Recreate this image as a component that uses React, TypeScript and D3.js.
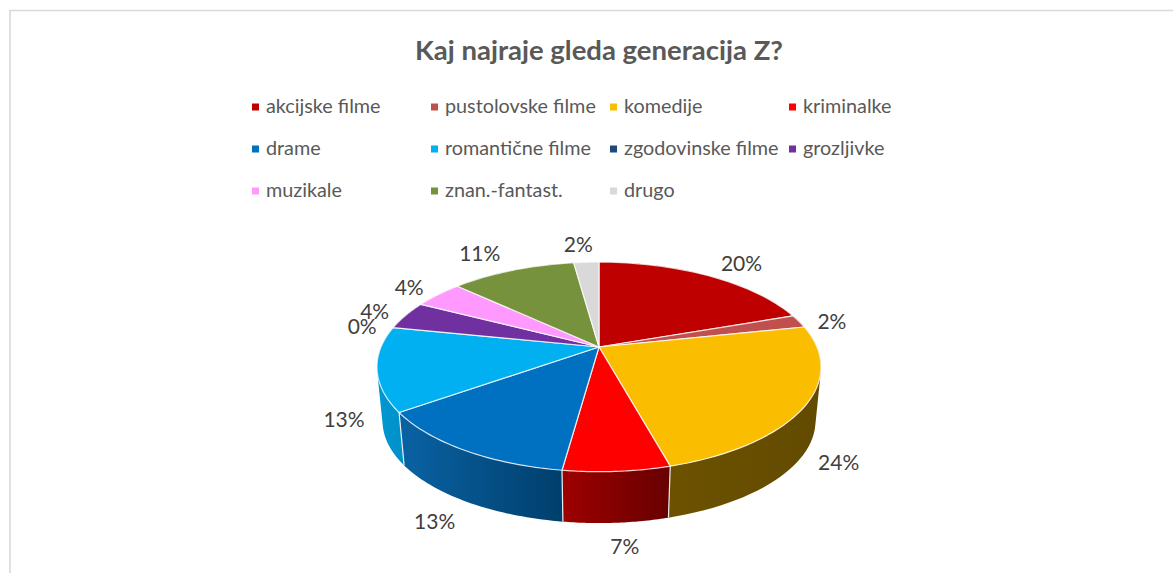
import React from "react";
import * as d3 from "d3";

const title = "Kaj najraje gleda generacija Z?";
const categories = ["akcijske filme","pustolovske filme","komedije","kriminalke","drame","romantične filme","zgodovinske filme","grozljivke","muzikale","znan.-fantast.","drugo"];
const shares = [19.7,2.0,24.0,6.5,13.0,13.0,0,4.4,4.3,10.9,2.2];
const shareLabels = ["20%","2%","24%","7%","13%","13%","0%","4%","4%","11%","2%"];
const colors = ["#BF0000","#C0504D","#FBBD00","#FF0000","#0070C0","#00B0F0","#1F497D","#7030A0","#FF99FF","#76923C","#D9D9D9"];
const wallLeft = ["#700000","#702e2c","#6C5200","#9E0000","#0A62A4","#0098D2","#14305a","#441c62","#995c99","#4c5c23","#828282"];
const wallRight = ["#700000","#702e2c","#624A00","#680000","#003F6C","#0090C8","#14305a","#441c62","#995c99","#4c5c23","#828282"];
const labelNudges: [number,number][] = [[33,-12],[33,0],[33,57],[8,75.5],[-29,72],[-33,51],[-31,-1],[-31,-3.5],[-29,-7],[-33,-17],[-8,-18]];

const W = 1173, H = 573;
const cx = 599, apexY = 347, A = 218, B = 101, K = 0.19;
const depth = 54, bottomScale = 0.975, rimCy = 367;
const legendCols = 4, legendX0 = 252, legendDX = 179, legendY0 = 107, legendDY = 42;

const xScale = d3.scaleLinear().domain([-1,1]).range([cx-A,cx+A]);
const yScale = d3.scaleLinear().domain([-1,1]).range([apexY+B,apexY-B]);
const project = (a:number):[number,number] => {
  const u = Math.sin(a), v = Math.cos(a), w = 1+K*v;
  return [xScale(u/w), yScale(v/w)];
};
const projectBottom = (a:number):[number,number] => {
  const [x,y] = project(a);
  return [cx+(x-cx)*bottomScale, rimCy+(y-rimCy)*bottomScale+depth];
};
const line = d3.line();
const samples = (a0:number,a1:number) => d3.range(0,41).map(i => a0+(a1-a0)*i/40);

// The wall is a strip of quads, all wound the same way, so its outline follows the true silhouette.
const wallPath = (a0:number,a1:number) => {
  const s = samples(a0,a1);
  return s.slice(1).map((a,i)=>{
    const q = [project(s[i]),project(a),projectBottom(a),projectBottom(s[i])];
    return line(d3.polygonArea(q)<0 ? q.reverse() : q)+"Z";
  }).join("");
};

const pie = d3.pie<number>().sort(null).startAngle(0).endAngle(2*Math.PI);
const arcs = pie(shares);

const FONT = "Lato, 'Open Sans', sans-serif";

export default function App() {
  return (
    <svg width={W} height={H} viewBox={`0 0 ${W} ${H}`} style={{position:"absolute",left:0,top:0,background:"#fff"}} fontFamily={FONT}>
      <defs>
        {arcs.map((_,i)=>(
          <linearGradient key={i} id={`wall${i}`} x1="0" x2="1" y1="0" y2="0">
            <stop offset="0" stopColor={wallLeft[i]}/>
            <stop offset="1" stopColor={wallRight[i]}/>
          </linearGradient>
        ))}
      </defs>
      <path d="M1173 10.5H10V573" fill="none" stroke="#d9d9d9" strokeWidth={1.6}/>
      <text x={599} y={60} textAnchor="middle" fontSize={27.5} fontWeight={700} fill="#595959">{title}</text>
      {categories.map((c,i)=>{
        const col=i%legendCols,row=Math.floor(i/legendCols);
        const x=legendX0+col*legendDX,y=legendY0+row*legendDY;
        return <g key={c}>
          <rect x={x} y={y-3.5} width={7} height={7} fill={colors[i]}/>
          <text x={x+14} y={y+6} fontSize={19.8} fill="#595959">{c}</text>
        </g>;
      })}
      {arcs.map((d,i)=>{
        if(d.endAngle===d.startAngle) return null;
        return <path key={i} d={wallPath(d.startAngle,d.endAngle)} fill={`url(#wall${i})`}/>;
      })}
      {arcs.map((d,i)=>{
        const a=d.startAngle;
        if(a<Math.PI/2||a>1.45*Math.PI) return null;
        return <path key={i} d={line([project(a),projectBottom(a)])!} stroke="#e8eef2" strokeWidth={1.2} fill="none"/>;
      })}
      {arcs.map((d,i)=>{
        if(d.endAngle===d.startAngle) return null;
        const ring=[[cx,apexY] as [number,number],...samples(d.startAngle,d.endAngle).map(project)];
        return <path key={i} d={line(ring)+"Z"} fill={colors[i]} stroke="#ffffff" strokeOpacity={0.8} strokeWidth={1.2} strokeLinejoin="round"/>;
      })}
      {arcs.map((d,i)=>{
        const [x,y]=project((d.startAngle+d.endAngle)/2);
        return <text key={i} x={x+labelNudges[i][0]} y={y+labelNudges[i][1]} dy="0.35em" textAnchor="middle" fontSize={21} fill="#404040">{shareLabels[i]}</text>;
      })}
    </svg>
  );
}
